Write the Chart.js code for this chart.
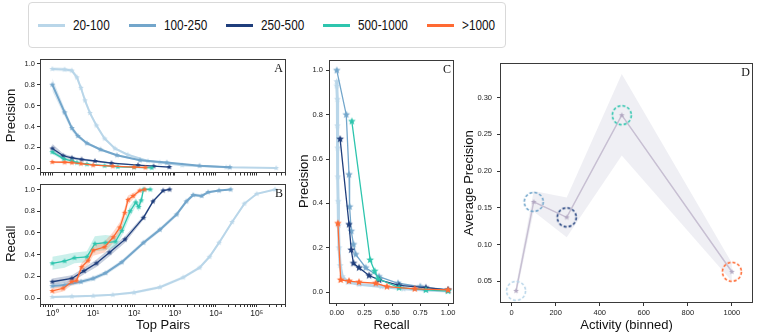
<!DOCTYPE html>
<html lang="en">
<head>
<meta charset="UTF-8">
<title>Precision and recall by activity bin</title>
<script src="https://cdn.jsdelivr.net/npm/chart.js"></script>
<style>
  body { margin: 0; background: #fff; width: 778px; height: 333px; position: relative; overflow: hidden;
         font-family: "Liberation Sans", Arial, sans-serif; }
  canvas.panel { position: absolute; }
  #legend { position: absolute; left: 28px; top: 2px; width: 478px; height: 46px; box-sizing: border-box;
            border: 1px solid #d9d9d9; border-radius: 4px; }
  .item { position: absolute; top: 0; height: 44px; display: flex; align-items: center; }
  .item i { display: block; width: 27px; height: 3px; margin-right: 8px; }
  .item span { font-size: 15.5px; color: #111; transform: scaleX(0.76); transform-origin: left center; white-space: nowrap; }
</style>
</head>
<body>

<div id="legend"></div>
<canvas id="chartA" class="panel" width="292" height="127" style="left:0;top:52px"></canvas>
<canvas id="chartB" class="panel" width="292" height="156" style="left:0;top:177px"></canvas>
<canvas id="chartC" class="panel" width="165" height="281" style="left:296px;top:52px"></canvas>
<canvas id="chartD" class="panel" width="317" height="281" style="left:461px;top:52px"></canvas>

<script>
// activity bins
const groups = ['20-100', '100-250', '250-500', '500-1000', '>1000'];
const groupColors = ['#b9d6e9', '#73a6cb', '#1f3e7c', '#2ec5ae', '#ff6a33'];

// A: precision vs top pairs (x, mean, spread)
const precX_20 = [1, 2, 3, 4, 5, 6.3, 8.3, 12, 19, 34, 70, 220, 430, 1500, 18000, 300000];
const precY_20 = [0.95, 0.945, 0.935, 0.87, 0.77, 0.65, 0.53, 0.41, 0.285, 0.19, 0.13, 0.07, 0.055, 0.03, 0.01, 0.003];
const precS_20 = [0.02, 0.02, 0.02, 0.025, 0.025, 0.025, 0.02, 0.02, 0.015, 0.012, 0.01, 0.008, 0.006, 0.005, 0.004, 0.003];
const precX_100 = [1, 2, 3, 4.2, 7, 15, 38, 140, 630, 4000, 22000];
const precY_100 = [0.80, 0.535, 0.385, 0.31, 0.24, 0.18, 0.125, 0.077, 0.055, 0.025, 0.01];
const precS_100 = [0.06, 0.04, 0.03, 0.02, 0.015, 0.012, 0.01, 0.008, 0.006, 0.004, 0.003];
const precX_250 = [1, 1.85, 3, 5.2, 11, 28, 125, 300, 730];
const precY_250 = [0.19, 0.12, 0.10, 0.085, 0.07, 0.05, 0.03, 0.02, 0.012];
const precS_250 = [0.045, 0.02, 0.015, 0.012, 0.01, 0.008, 0.005, 0.004, 0.003];
const precX_500 = [1, 1.9, 3, 4, 7, 19, 40, 100, 270];
const precY_500 = [0.155, 0.09, 0.07, 0.055, 0.04, 0.025, 0.015, 0.01, 0.005];
const precS_500 = [0.02, 0.015, 0.012, 0.01, 0.008, 0.006, 0.005, 0.004, 0.003];
const precX_1000 = [1, 2, 3, 5, 10, 30, 100, 190];
const precY_1000 = [0.06, 0.058, 0.055, 0.045, 0.03, 0.02, 0.012, 0.008];
const precS_1000 = [0.012, 0.01, 0.01, 0.008, 0.006, 0.005, 0.004, 0.003];

// B: recall vs top pairs
const recX_20 = [1, 3, 10, 30, 100, 430, 1600, 4000, 7000, 12000, 25000, 50000, 100000, 280000];
const recY_20 = [0.01, 0.015, 0.02, 0.03, 0.05, 0.10, 0.19, 0.28, 0.38, 0.51, 0.70, 0.87, 0.96, 1.0];
const recS_20 = [0.01, 0.01, 0.01, 0.01, 0.012, 0.015, 0.015, 0.015, 0.015, 0.015, 0.015, 0.012, 0.01, 0.005];
const recX_100 = [1, 2, 5, 10, 20, 50, 170, 430, 1100, 1900, 2800, 4500, 6500, 12000, 23000];
const recY_100 = [0.11, 0.12, 0.15, 0.18, 0.23, 0.33, 0.51, 0.63, 0.77, 0.89, 0.95, 0.94, 0.975, 0.99, 1.0];
const recS_100 = [0.02, 0.02, 0.02, 0.02, 0.02, 0.02, 0.02, 0.02, 0.02, 0.02, 0.015, 0.015, 0.01, 0.008, 0.005];
const recX_250 = [1, 3, 6, 12, 25, 60, 170, 290, 515, 740];
const recY_250 = [0.15, 0.18, 0.25, 0.32, 0.42, 0.54, 0.74, 0.89, 0.99, 1.0];
const recS_250 = [0.03, 0.03, 0.03, 0.035, 0.035, 0.03, 0.02, 0.015, 0.01, 0.005];
const recX_500 = [1, 2, 3.5, 7, 11, 20, 35, 50, 80, 110, 130, 150, 170, 250];
const recY_500 = [0.32, 0.34, 0.37, 0.38, 0.5, 0.51, 0.52, 0.62, 0.8, 0.88, 0.84, 0.9, 1.0, 1.0];
const recS_500 = [0.06, 0.06, 0.05, 0.05, 0.07, 0.07, 0.05, 0.05, 0.05, 0.04, 0.04, 0.04, 0.02, 0.01];
const recX_1000 = [1, 1.85, 3, 3.9, 5.2, 7.5, 10, 19, 31, 45, 59, 71, 95, 138, 182];
const recY_1000 = [0.065, 0.09, 0.15, 0.16, 0.285, 0.345, 0.44, 0.47, 0.56, 0.65, 0.785, 0.905, 0.94, 0.99, 1.0];
const recS_1000 = [0.03, 0.03, 0.03, 0.03, 0.04, 0.04, 0.05, 0.05, 0.05, 0.05, 0.05, 0.04, 0.03, 0.01, 0.005];

// C: precision vs recall
const prR_20 = [0, 0, 0.005, 0.005, 0.008, 0.01, 0.012, 0.015, 0.02, 0.03, 0.05, 0.1, 0.2, 0.4, 0.6, 0.8, 1.0];
const prP_20 = [0.95, 0.93, 0.87, 0.75, 0.65, 0.52, 0.41, 0.3, 0.2, 0.12, 0.07, 0.045, 0.035, 0.025, 0.015, 0.01, 0.005];
const prR_100 = [0, 0.085, 0.11, 0.115, 0.13, 0.15, 0.17, 0.26, 0.38, 0.55, 0.75, 1.0];
const prP_100 = [1.0, 0.80, 0.53, 0.385, 0.275, 0.215, 0.17, 0.11, 0.07, 0.04, 0.025, 0.01];
const prR_250 = [0.03, 0.11, 0.13, 0.15, 0.2, 0.29, 0.38, 0.56, 0.8, 1.0];
const prP_250 = [0.69, 0.305, 0.19, 0.13, 0.11, 0.075, 0.055, 0.03, 0.02, 0.01];
const prR_500 = [0.135, 0.30, 0.34, 0.37, 0.56, 0.8, 1.0];
const prP_500 = [0.77, 0.145, 0.095, 0.06, 0.02, 0.01, 0.005];
const prR_1000 = [0.01, 0.035, 0.11, 0.2, 0.35, 0.45, 0.7, 1.0];
const prP_1000 = [0.31, 0.055, 0.05, 0.045, 0.04, 0.025, 0.015, 0.01];

// D: average precision per activity bin
const activity = [20, 100, 250, 500, 1000];
const avgPrec = [0.037, 0.158, 0.137, 0.276, 0.063];
const avgPrecLow = [0.03, 0.145, 0.11, 0.221, 0.05];
const avgPrecHigh = [0.045, 0.173, 0.164, 0.332, 0.075];

const superscripts = ['⁰', '¹', '²', '³', '⁴', '⁵', '⁶'];

Chart.defaults.font.family = '"Liberation Sans", Arial, sans-serif';
Chart.defaults.color = '#222';

// legend
const legendLeft = [9, 100, 197, 294, 398];
const legend = document.getElementById('legend');
groups.forEach((g, i) => {
    const item = document.createElement('div');
    item.className = 'item';
    item.style.left = legendLeft[i] + 'px';
    item.innerHTML = '<i style="background:' + groupColors[i] + '"></i><span></span>';
    item.querySelector('span').textContent = g;
    legend.appendChild(item);
});

function starImage(color, r) {
    const c = document.createElement('canvas');
    const s = Math.ceil(r * 2) + 2;
    c.width = s; c.height = s;
    const g = c.getContext('2d');
    g.fillStyle = color;
    g.beginPath();
    for (let i = 0; i < 10; i++) {
        const rad = i % 2 ? r * 0.45 : r;
        const a = -Math.PI / 2 + i * Math.PI / 5;
        g.lineTo(s / 2 + rad * Math.cos(a), s / 2 + rad * Math.sin(a));
    }
    g.closePath();
    g.fill();
    return c;
}

function ringImage(color) {
    const c = document.createElement('canvas');
    c.width = 24; c.height = 24;
    const g = c.getContext('2d');
    g.strokeStyle = color;
    g.lineWidth = 1.6;
    g.setLineDash([3, 2]);
    g.beginPath();
    g.arc(12, 12, 9.5, 0, Math.PI * 2);
    g.stroke();
    return c;
}

function alpha(hex, a) {
    const n = parseInt(hex.slice(1), 16);
    return 'rgba(' + (n >> 16) + ',' + ((n >> 8) & 255) + ',' + (n & 255) + ',' + a + ')';
}

const pts = (xs, ys) => xs.map((x, i) => ({x: x, y: ys[i]}));

function withBand(xs, ys, sd, idx, markR) {
    const color = groupColors[idx];
    const rank = groups.length - idx;
    return [
        { data: pts(xs, ys), borderColor: color, backgroundColor: color, borderWidth: idx < 2 ? 2 : 1.3,
          pointStyle: starImage(color, markR), pointRadius: markR, order: rank },
        { data: xs.map((x, i) => ({x: x, y: ys[i] + sd[i]})), borderWidth: 0, pointRadius: 0,
          fill: false, order: 10 + rank },
        { data: xs.map((x, i) => ({x: x, y: ys[i] - sd[i]})), borderWidth: 0, pointRadius: 0,
          fill: '-1', backgroundColor: alpha(color, 0.25), order: 10 + rank }
    ];
}

const framePlugin = {
    id: 'frame',
    afterDraw(chart, args, opts) {
        const {ctx, chartArea: a} = chart;
        ctx.save();
        ctx.strokeStyle = '#3a3a3a';
        ctx.lineWidth = 1;
        ctx.strokeRect(Math.round(a.left) + 0.5, Math.round(a.top) + 0.5,
                       Math.round(a.right - a.left) - 1, Math.round(a.bottom - a.top) - 1);
        ctx.fillStyle = '#111';
        ctx.font = '12px "Liberation Serif", "DejaVu Serif", serif';
        ctx.textAlign = 'right';
        ctx.textBaseline = 'top';
        ctx.fillText(opts.letter, a.right - 3, a.top + 4);
        ctx.restore();
    }
};

const tickFont = {size: 7.5};
const titleFont = {size: 13};
const gridOpts = {drawOnChartArea: false, tickLength: 3, color: '#333', tickColor: '#333'};

// 1..9 x 10^e tick positions on the log axis
function decadeTicks(scale) {
    const t = [];
    for (let e = -1; e <= 5; e++) {
        for (let m = 1; m <= 9; m++) {
            const v = m * Math.pow(10, e);
            if (v >= scale.min && v <= scale.max) t.push({value: v, major: m === 1});
        }
    }
    scale.ticks = t;
}

function logLabel(v) {
    const l = Math.log10(v);
    const r = Math.round(l);
    return Math.abs(l - r) < 1e-6 ? '10' + superscripts[r] : '';
}

function baseOptions(letter, pad) {
    return {
        responsive: false,
        animation: false,
        devicePixelRatio: 1,
        layout: {padding: pad},
        elements: {line: {tension: 0}},
        plugins: {legend: {display: false}, tooltip: {enabled: false}, frame: {letter: letter}},
        scales: {}
    };
}

// panel A
const optA = baseOptions('A', {left: 0, top: 5, right: 5, bottom: 0});
optA.scales = {
    x: { type: 'logarithmic', min: 0.5, max: 520000, grid: gridOpts, border: {display: false},
         afterBuildTicks: decadeTicks,
         ticks: {font: tickFont, autoSkip: false, maxRotation: 0, callback: () => ''},
         afterFit: s => { s.height = 4; } },
    y: { min: -0.04, max: 1.05, grid: gridOpts, border: {display: false},
         ticks: {font: tickFont, stepSize: 0.2, includeBounds: false, padding: 2, callback: v => v.toFixed(1)},
         title: {display: true, text: 'Precision', font: titleFont, color: '#111', padding: {top: 4, bottom: 0}},
         afterFit: s => { s.width = 40; } }
};
new Chart(document.getElementById('chartA'), {
    type: 'line',
    data: { datasets: [].concat(
        withBand(precX_20, precY_20, precS_20, 0, 3),
        withBand(precX_100, precY_100, precS_100, 1, 3),
        withBand(precX_250, precY_250, precS_250, 2, 3),
        withBand(precX_500, precY_500, precS_500, 3, 3),
        withBand(precX_1000, precY_1000, precS_1000, 4, 3)) },
    options: optA,
    plugins: [framePlugin]
});

// panel B
const optB = baseOptions('B', {left: 0, top: 5, right: 5, bottom: 0});
optB.scales = {
    x: { type: 'logarithmic', min: 0.5, max: 520000, grid: gridOpts, border: {display: false},
         afterBuildTicks: decadeTicks,
         ticks: {font: {size: 8.5}, autoSkip: false, maxRotation: 0, padding: 2, callback: logLabel},
         title: {display: true, text: 'Top Pairs', font: titleFont, color: '#111', padding: {top: 0, bottom: 0}},
         afterFit: s => { s.height = 29; } },
    y: { min: -0.055, max: 1.055, grid: gridOpts, border: {display: false},
         ticks: {font: tickFont, stepSize: 0.2, includeBounds: false, padding: 2, callback: v => v.toFixed(1)},
         title: {display: true, text: 'Recall', font: titleFont, color: '#111', padding: {top: 4, bottom: 0}},
         afterFit: s => { s.width = 40; } }
};
new Chart(document.getElementById('chartB'), {
    type: 'line',
    data: { datasets: [].concat(
        withBand(recX_20, recY_20, recS_20, 0, 3),
        withBand(recX_100, recY_100, recS_100, 1, 3),
        withBand(recX_250, recY_250, recS_250, 2, 3),
        withBand(recX_500, recY_500, recS_500, 3, 3),
        withBand(recX_1000, recY_1000, recS_1000, 4, 3)) },
    options: optB,
    plugins: [framePlugin]
});

// panel C
const prSeries = [[prR_20, prP_20], [prR_100, prP_100], [prR_250, prP_250], [prR_500, prP_500], [prR_1000, prP_1000]];
const optC = baseOptions('C', {left: 0, top: 4, right: 4, bottom: 0});
optC.scales = {
    x: { type: 'linear', min: -0.07, max: 1.053, grid: gridOpts, border: {display: false},
         ticks: {font: tickFont, stepSize: 0.25, includeBounds: false, maxRotation: 0, padding: 2, callback: v => v.toFixed(2)},
         title: {display: true, text: 'Recall', font: titleFont, color: '#111', padding: {top: 0, bottom: 0}},
         afterFit: s => { s.height = 30; } },
    y: { min: -0.049, max: 1.049, grid: gridOpts, border: {display: false},
         ticks: {font: tickFont, stepSize: 0.2, includeBounds: false, padding: 3, callback: v => v.toFixed(1)},
         title: {display: true, text: 'Precision', font: titleFont, color: '#111', padding: {top: 1, bottom: 0}},
         afterFit: s => { s.width = 33; } }
};
new Chart(document.getElementById('chartC'), {
    type: 'line',
    data: { datasets: prSeries.map((s, i) => ({
        data: pts(s[0], s[1]), borderColor: groupColors[i], backgroundColor: groupColors[i],
        borderWidth: i === 0 ? 3 : 1.3, pointStyle: starImage(groupColors[i], i === 0 ? 3.5 : 4),
        pointRadius: 4, order: groups.length - i })) },
    options: optC,
    plugins: [framePlugin]
});

// panel D
const optD = baseOptions('D', {left: 0, top: 4, right: 25, bottom: 0});
optD.scales = {
    x: { type: 'linear', min: -53, max: 1096, grid: gridOpts, border: {display: false},
         ticks: {font: tickFont, stepSize: 200, includeBounds: false, maxRotation: 0, padding: 2, callback: v => String(v)},
         title: {display: true, text: 'Activity (binned)', font: titleFont, color: '#111', padding: {top: 0, bottom: 0}},
         afterFit: s => { s.height = 30; } },
    y: { min: 0.0205, max: 0.347, grid: gridOpts, border: {display: false},
         ticks: {font: tickFont, stepSize: 0.05, includeBounds: false, padding: 5, callback: v => v.toFixed(2)},
         title: {display: true, text: 'Average Precision', font: titleFont, color: '#111', padding: {top: 1, bottom: 0}},
         afterFit: s => { s.width = 39; } }
};
new Chart(document.getElementById('chartD'), {
    type: 'line',
    data: { datasets: [
        { data: pts(activity, avgPrec), showLine: false, pointStyle: groupColors.map(ringImage),
          pointRadius: 10, order: 0 },
        { data: pts(activity, avgPrec), borderColor: '#c7bfd2', borderWidth: 1.5,
          pointStyle: starImage('#b3a8c2', 3), pointRadius: 3, order: 1 },
        { data: pts(activity, avgPrecHigh), borderWidth: 0, pointRadius: 0, fill: false, order: 5 },
        { data: pts(activity, avgPrecLow), borderWidth: 0, pointRadius: 0, fill: '-1',
          backgroundColor: 'rgba(214,214,226,0.38)', order: 5 }
    ] },
    options: optD,
    plugins: [framePlugin]
});
</script>
</body>
</html>
